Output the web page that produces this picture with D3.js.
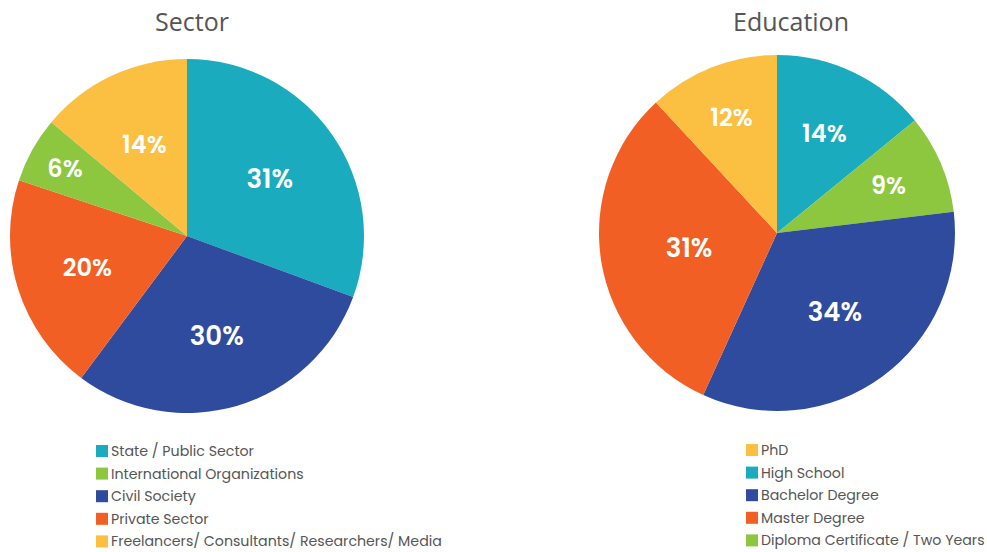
<!DOCTYPE html>
<html>
<head>
<meta charset="utf-8">
<title>Sector and Education</title>
<script src="https://d3js.org/d3.v7.min.js"></script>
<style>
  body { margin: 0; background: #fff; }
  svg { display: block; }
  .title { font-family: "Open Sans", sans-serif; font-size: 25px; fill: #555; }
  .pct { font-family: "Poppins", "Inter", "Lato", sans-serif; font-weight: 600; fill: #fff; }
  .legend text { font-family: "Poppins", "Inter", "Lato", sans-serif; font-size: 14.2px; fill: #555; }
</style>
</head>
<body>
<div id="chart"></div>
<script>
// colours shared by both pies
const teal = "#1aabbf", blue = "#2f4b9e", orange = "#f15f24", green = "#8dc63f", yellow = "#fbbf42";

// Sector pie (clockwise from 12 o'clock)
const sectorCats = ["State / Public Sector", "Civil Society", "Private Sector", "International Organizations", "Freelancers/ Consultants/ Researchers/ Media"];
const sectorVals = [30.6, 29.6, 19.9, 6.0, 13.9];
const sectorColors = [teal, blue, orange, green, yellow];
const sectorLegend = ["State / Public Sector", "International Organizations", "Civil Society", "Private Sector", "Freelancers/ Consultants/ Researchers/ Media"];

// Education pie
const eduCats = ["High School", "Diploma Certificate / Two Years", "Bachelor Degree", "Master Degree", "PhD"];
const eduVals = [14.1, 9.0, 33.7, 31.3, 11.9];
const eduColors = [teal, green, blue, orange, yellow];
const eduLegend = ["PhD", "High School", "Bachelor Degree", "Master Degree", "Diploma Certificate / Two Years"];

const W = 987, H = 552;
const svg = d3.select("#chart").append("svg").attr("width", W).attr("height", H);

function drawPie(opts) {
  const g = svg.append("g").attr("transform", `translate(${opts.cx},${opts.cy})`);
  const color = d3.scaleOrdinal().domain(opts.cats).range(opts.colors);
  const pie = d3.pie().sort(null).value(d => d.v);
  const arcs = pie(opts.cats.map((c, i) => ({ c: c, v: opts.vals[i] })));
  const arc = d3.arc().innerRadius(0).outerRadius(opts.r);

  g.selectAll("path").data(arcs).join("path")
    .attr("d", arc)
    .attr("fill", d => color(d.data.c));

  g.selectAll("text.pct").data(arcs).join("text")
    .attr("class", "pct")
    .attr("transform", (d, i) => {
      const a = (d.startAngle + d.endAngle) / 2;
      const rr = opts.r * opts.labelR[i];
      return `translate(${Math.sin(a) * rr},${-Math.cos(a) * rr})`;
    })
    .attr("text-anchor", "middle")
    .attr("dy", "0.36em")
    .style("font-size", d => (d.data.v > 25 ? 26 : 24) + "px")
    .text(d => Math.round(d.data.v) + "%");

  svg.append("text").attr("class", "title")
    .attr("x", opts.tx).attr("y", 31)
    .attr("text-anchor", "middle")
    .text(opts.title);

  const lg = svg.append("g").attr("class", "legend")
    .attr("transform", `translate(${opts.lx},${opts.ly})`);
  const item = lg.selectAll("g").data(opts.legend).join("g")
    .attr("transform", (d, i) => `translate(0,${i * 22.6})`);
  item.append("rect").attr("x", 0).attr("y", -6).attr("width", 12).attr("height", 12)
    .attr("fill", d => color(d));
  item.append("text").attr("x", 15).attr("dy", "0.35em").text(d => d);
}

drawPie({
  title: "Sector", cats: sectorCats, vals: sectorVals, colors: sectorColors, legend: sectorLegend,
  cx: 187, cy: 236, r: 177, tx: 192, labelR: [0.57, 0.59, 0.59, 0.79, 0.57], lx: 96, ly: 451
});

drawPie({
  title: "Education", cats: eduCats, vals: eduVals, colors: eduColors, legend: eduLegend,
  cx: 777, cy: 233, r: 178, tx: 791, labelR: [0.62, 0.68, 0.55, 0.5, 0.7], lx: 746, ly: 450
});
</script>
</body>
</html>
